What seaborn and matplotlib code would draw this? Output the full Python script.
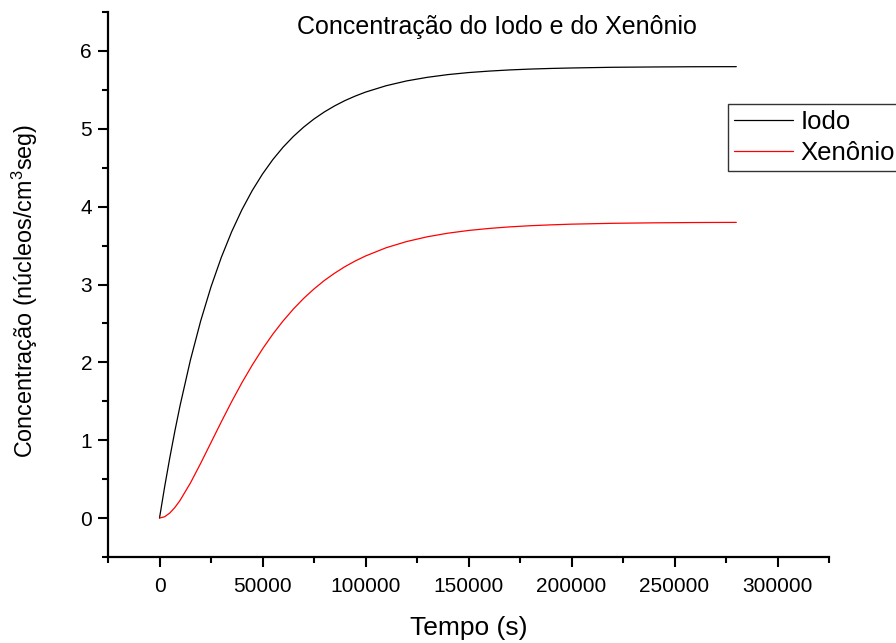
import matplotlib
matplotlib.use("Agg")
import matplotlib.pyplot as plt
from matplotlib.ticker import MultipleLocator
import pandas as pd
import seaborn as sns

# Time samples (s) and concentrations of iodine and xenon
tempo = [0, 2500, 5000, 7500, 10000, 15000, 20000, 25000, 30000, 35000,
         40000, 45000, 50000, 55000, 60000, 65000, 70000, 75000, 80000,
         85000, 90000, 95000, 100000, 110000, 120000, 130000, 140000,
         150000, 160000, 170000, 180000, 190000, 200000, 220000, 240000,
         260000, 280000]
iodo = [0.0, 0.402, 0.775, 1.123, 1.447, 2.029, 2.533, 2.970, 3.348, 3.676,
        3.960, 4.206, 4.419, 4.604, 4.764, 4.902, 5.022, 5.126, 5.216,
        5.294, 5.362, 5.420, 5.471, 5.553, 5.615, 5.661, 5.696,
        5.722, 5.741, 5.756, 5.767, 5.775, 5.781, 5.790, 5.794,
        5.797, 5.798]
xenonio = [0.0, 0.017, 0.065, 0.137, 0.228, 0.450, 0.704, 0.970, 1.236, 1.494,
           1.738, 1.964, 2.172, 2.362, 2.532, 2.685, 2.822, 2.943, 3.051,
           3.145, 3.229, 3.302, 3.366, 3.472, 3.552, 3.613, 3.659,
           3.694, 3.720, 3.740, 3.755, 3.766, 3.775, 3.786, 3.792,
           3.796, 3.798]
series_names = ["Iodo", "Xenônio"]
series_colors = ["black", "red"]
x_ticks = [0, 50000, 100000, 150000, 200000, 250000, 300000]
x_ticklabels = ["0", "50000", "100000", "150000", "200000", "250000", "300000"]
y_ticks = [0, 1, 2, 3, 4, 5, 6]
y_ticklabels = ["0", "1", "2", "3", "4", "5", "6"]

df = pd.concat([
    pd.DataFrame({"Tempo": tempo, "Conc": iodo, "Serie": series_names[0]}),
    pd.DataFrame({"Tempo": tempo, "Conc": xenonio, "Serie": series_names[1]}),
])

sns.set_style("ticks")
plt.rcParams["font.family"] = ["Liberation Sans", "DejaVu Sans"]
plt.rcParams["mathtext.fontset"] = "custom"
plt.rcParams["mathtext.rm"] = "Liberation Sans"
plt.rcParams["mathtext.it"] = "Liberation Sans:italic"
plt.rcParams["text.color"] = "black"
plt.rcParams["axes.labelcolor"] = "black"

fig = plt.figure(figsize=(8.96, 6.43), dpi=100)
ax = fig.add_axes([108 / 896, 1 - 557 / 643, (829 - 108) / 896, (557 - 12) / 643])

sns.lineplot(data=df, x="Tempo", y="Conc", hue="Serie",
             palette=dict(zip(series_names, series_colors)),
             linewidth=0.9, ax=ax, legend=False, sort=False)

ax.set_xlim(-25000, 325000)
ax.set_ylim(-0.5, 6.5)
ax.set_xticks(x_ticks)
ax.set_xticklabels(x_ticklabels)
ax.set_yticks(y_ticks)
ax.set_yticklabels(y_ticklabels)
ax.xaxis.set_minor_locator(MultipleLocator(25000))
ax.yaxis.set_minor_locator(MultipleLocator(0.5))

for side in ["top", "right"]:
    ax.spines[side].set_visible(False)
for side in ["left", "bottom"]:
    ax.spines[side].set_linewidth(1.6)
    ax.spines[side].set_color("black")

ax.tick_params(axis="both", which="major", direction="out", length=7.5,
               width=1.5, labelsize=15, colors="black")
ax.tick_params(axis="both", which="minor", direction="out", length=4,
               width=1.5, colors="black")
ax.tick_params(axis="x", which="major", pad=7)
ax.tick_params(axis="y", which="major", pad=4)

ax.set_xlabel("Tempo (s)", fontsize=19, labelpad=14)
ax.set_ylabel("Concentração (núcleos/cm$^{3}$seg)", fontsize=16.8)
ax.yaxis.set_label_coords(-0.094, 0.488)

fig.text(497 / 896, 1 - 27 / 643, "Concentração do Iodo e do Xenônio",
         ha="center", va="center", fontsize=18)

handles = [plt.Line2D([], [], color=c, linewidth=0.9) for c in series_colors]
leg = fig.legend(handles, series_names, loc="upper left",
                 bbox_to_anchor=(728 / 896, 1 - 104 / 643),
                 bbox_transform=fig.transFigure,
                 fontsize=18.5, frameon=True, fancybox=False,
                 handlelength=2.3, handletextpad=0.3, borderpad=0.22,
                 labelspacing=0.3, borderaxespad=0)
leg.get_frame().set_edgecolor("black")
leg.get_frame().set_linewidth(1.0)

fig.savefig("out.png", dpi=100)
